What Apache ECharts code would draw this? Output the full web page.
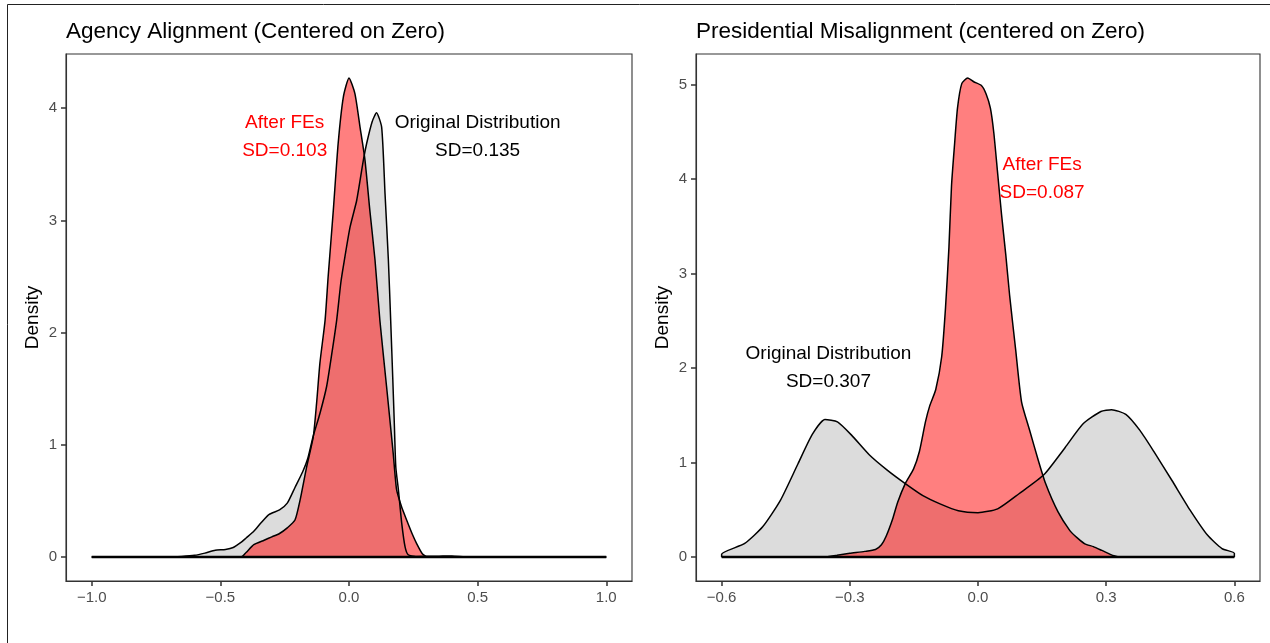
<!DOCTYPE html>
<html>
<head>
<meta charset="utf-8">
<script src="https://cdn.jsdelivr.net/npm/echarts@6/dist/echarts.min.js"></script>
<style>
  html, body { margin: 0; padding: 0; background: #fff; }
  #chart { width: 1270px; height: 643px; }
</style>
</head>
<body>
<div id="chart"></div>
<script>
// left panel: agency alignment densities
const agencyOrigX = [-1.0, -0.70, -0.65, -0.60, -0.56, -0.52, -0.48, -0.45, -0.42, -0.40, -0.37, -0.34, -0.31, -0.27, -0.24, -0.21, -0.18, -0.16, -0.14, -0.113, -0.087, -0.067, -0.048, -0.032, -0.022, 0.004, 0.03, 0.056, 0.069, 0.09, 0.107, 0.127, 0.14, 0.153, 0.162, 0.17, 0.176, 0.182, 0.192, 0.205, 0.218, 0.23, 0.26, 0.35, 0.40, 0.45, 0.5, 1.0];
const agencyOrigD = [0, 0, 0.005, 0.015, 0.035, 0.06, 0.068, 0.085, 0.13, 0.17, 0.23, 0.31, 0.38, 0.42, 0.48, 0.62, 0.76, 0.88, 1.07, 1.28, 1.52, 1.81, 2.11, 2.44, 2.59, 2.94, 3.18, 3.54, 3.69, 3.88, 3.96, 3.83, 3.24, 2.65, 2.11, 1.6, 1.2, 0.8, 0.6, 0.3, 0.09, 0.02, 0.005, 0.008, 0.01, 0.002, 0, 0];
const agencyFeX = [-1.0, -0.42, -0.40, -0.37, -0.33, -0.30, -0.27, -0.24, -0.21, -0.19, -0.165, -0.139, -0.126, -0.113, -0.093, -0.081, -0.061, -0.042, -0.022, 0.0, 0.023, 0.043, 0.062, 0.081, 0.101, 0.12, 0.146, 0.172, 0.185, 0.204, 0.224, 0.245, 0.263, 0.285, 0.305, 1.0];
const agencyFeD = [0, 0, 0.04, 0.11, 0.15, 0.18, 0.21, 0.26, 0.33, 0.51, 0.80, 1.07, 1.37, 1.73, 2.11, 2.50, 3.09, 3.69, 4.10, 4.27, 4.13, 3.83, 3.54, 3.09, 2.65, 2.11, 1.52, 0.92, 0.60, 0.45, 0.33, 0.21, 0.12, 0.03, 0, 0];

// right panel: presidential misalignment densities
const presOrigX = [-0.6, -0.6, -0.546, -0.504, -0.4625, -0.421, -0.3875, -0.358, -0.329, -0.296, -0.254, -0.2125, -0.171, -0.129, -0.0875, -0.046, 0.0, 0.046, 0.096, 0.154, 0.204, 0.246, 0.2875, 0.3125, 0.346, 0.379, 0.4125, 0.454, 0.496, 0.5375, 0.571, 0.6, 0.6];
const presOrigD = [0, 0.03, 0.144, 0.32, 0.60, 0.99, 1.30, 1.455, 1.43, 1.29, 1.08, 0.92, 0.78, 0.65, 0.56, 0.49, 0.47, 0.51, 0.67, 0.87, 1.16, 1.41, 1.54, 1.56, 1.51, 1.34, 1.11, 0.81, 0.50, 0.23, 0.09, 0.04, 0];
const presFeX = [-0.6, -0.36, -0.33, -0.30, -0.265, -0.24, -0.226, -0.215, -0.2, -0.188, -0.17, -0.151, -0.137, -0.123, -0.113, -0.099, -0.085, -0.076, -0.068, -0.062, -0.055, -0.048, -0.038, -0.024, -0.01, 0.008, 0.019, 0.029, 0.037, 0.046, 0.055, 0.065, 0.074, 0.088, 0.102, 0.121, 0.14, 0.158, 0.187, 0.215, 0.233, 0.25, 0.27, 0.29, 0.318, 0.337, 0.6];
const presFeD = [0, 0, 0.02, 0.04, 0.06, 0.08, 0.13, 0.22, 0.40, 0.58, 0.78, 0.93, 1.12, 1.43, 1.60, 1.77, 2.12, 2.64, 3.28, 3.93, 4.36, 4.75, 5.01, 5.07, 5.03, 4.99, 4.9, 4.75, 4.49, 4.06, 3.63, 3.20, 2.77, 2.20, 1.64, 1.34, 1.04, 0.78, 0.48, 0.28, 0.20, 0.14, 0.11, 0.07, 0.013, 0, 0];

// ticks
const agencyXTicks = [-1, -0.5, 0, 0.5, 1];
const agencyXLabels = ['\u22121.0', '\u22120.5', '0.0', '0.5', '1.0'];
const agencyYTicks = [0, 1, 2, 3, 4];
const presXTicks = [-0.6, -0.3, 0, 0.3, 0.6];
const presXLabels = ['\u22120.6', '\u22120.3', '0.0', '0.3', '0.6'];
const presYTicks = [0, 1, 2, 3, 4, 5];

// data ranges and annotations
const agencyRange = [-1, 1];
const presRange = [-0.6, 0.6];
const titles = ['Agency Alignment (Centered on Zero)', 'Presidential Misalignment (centered on Zero)'];
const agencyNotes = [[-0.25, 3.75, 'After FEs\nSD=0.103', '#FF0000'], [0.5, 3.75, 'Original Distribution\nSD=0.135', '#000000']];
const presNotes = [[0.15, 4.0, 'After FEs\nSD=0.087', '#FF0000'], [-0.35, 2.0, 'Original Distribution\nSD=0.307', '#000000']];

const FONT = '"Liberation Sans", Arial, sans-serif';
const GREY_FILL = '#DCDCDC';
const RED_FILL = 'rgba(255,0,0,0.5)';

function zip(xs, ys) {
  return xs.map((x, i) => [x, ys[i]]);
}

function densitySeries(idx, xs, ys, fill) {
  return {
    type: 'line', xAxisIndex: idx, yAxisIndex: idx,
    data: zip(xs, ys), symbol: 'none',
    smooth: 0.2,
    lineStyle: { color: '#000', width: 1.5 },
    areaStyle: { color: fill, opacity: 1 },
    silent: true, animation: false
  };
}

function baseline(idx, range) {
  return {
    type: 'line', xAxisIndex: idx, yAxisIndex: idx,
    data: [[range[0], 0], [range[1], 0]], symbol: 'none',
    lineStyle: { color: '#000', width: 2.5 }, z: 5,
    silent: true, animation: false
  };
}

function notes(idx, list) {
  return list.map(n => ({
    type: 'scatter', xAxisIndex: idx, yAxisIndex: idx,
    data: [[n[0], n[1]]], symbolSize: 1,
    itemStyle: { color: 'rgba(0,0,0,0)', opacity: 1 }, z: 6, silent: true, animation: false,
    label: {
      show: true, position: 'inside', formatter: n[2], color: n[3], opacity: 1,
      textBorderWidth: 0, fontFamily: FONT, fontSize: 19, lineHeight: 28, align: 'center'
    }
  }));
}

// tick marks sit outside the panel, labels just beyond them
const tickStyle = { show: true, inside: false, length: 5, lineStyle: { color: '#333333', width: 1.5 } };

function xAxis(idx, min, max, ticks, labels) {
  return {
    type: 'value', gridIndex: idx, min: min, max: max,
    axisLine: { show: true, onZero: false, lineStyle: { color: '#333', width: 1.1 } }, splitLine: { show: false },
    axisTick: Object.assign({ customValues: ticks }, tickStyle),
    axisLabel: {
      customValues: ticks, color: '#4D4D4D', fontFamily: FONT, fontSize: 15, margin: 9,
      formatter: v => labels[ticks.indexOf(v)]
    }
  };
}

function yAxis(idx, min, max, ticks) {
  return {
    type: 'value', gridIndex: idx, min: min, max: max,
    name: 'Density', nameLocation: 'middle', nameGap: 24,
    nameTextStyle: { color: '#000', fontFamily: FONT, fontSize: 19 },
    axisLine: { show: true, onZero: false, lineStyle: { color: '#333', width: 1.1 } }, splitLine: { show: false },
    axisTick: Object.assign({ customValues: ticks }, tickStyle),
    axisLabel: {
      customValues: ticks, color: '#4D4D4D', fontFamily: FONT, fontSize: 15, margin: 9,
      formatter: v => String(v)
    }
  };
}

const chart = echarts.init(document.getElementById('chart'), null, { renderer: 'canvas' });

const titleStyle = { color: '#000', fontFamily: FONT, fontSize: 22.5, fontWeight: 'normal' };

const option = {
  backgroundColor: '#fff',
  animation: false,
  title: [
    { text: titles[0], left: 66, top: 20, padding: 0, textStyle: titleStyle },
    { text: titles[1], left: 696, top: 20, padding: 0, textStyle: titleStyle }
  ],
  grid: [
    { left: 66, top: 54, width: 566, height: 527, show: true, borderColor: '#333', borderWidth: 1.1, backgroundColor: 'transparent' },
    { left: 696, top: 54, width: 564, height: 527, show: true, borderColor: '#333', borderWidth: 1.1, backgroundColor: 'transparent' }
  ],
  xAxis: [
    xAxis(0, -1.1, 1.1, agencyXTicks, agencyXLabels),
    xAxis(1, -0.66, 0.66, presXTicks, presXLabels)
  ],
  yAxis: [
    yAxis(0, -0.2135, 4.4835, agencyYTicks),
    yAxis(1, -0.2535, 5.3235, presYTicks)
  ],
  graphic: [
    { type: 'rect', shape: { x: 7.5, y: 4.5, width: 1300, height: 700 }, style: { fill: 'none', stroke: '#222', lineWidth: 1 }, silent: true }
  ],
  series: [
    densitySeries(0, agencyOrigX, agencyOrigD, GREY_FILL),
    densitySeries(0, agencyFeX, agencyFeD, RED_FILL),
    baseline(0, agencyRange),
    densitySeries(1, presOrigX, presOrigD, GREY_FILL),
    densitySeries(1, presFeX, presFeD, RED_FILL),
    baseline(1, presRange)
  ].concat(notes(0, agencyNotes), notes(1, presNotes))
};

chart.setOption(option);
</script>
</body>
</html>
